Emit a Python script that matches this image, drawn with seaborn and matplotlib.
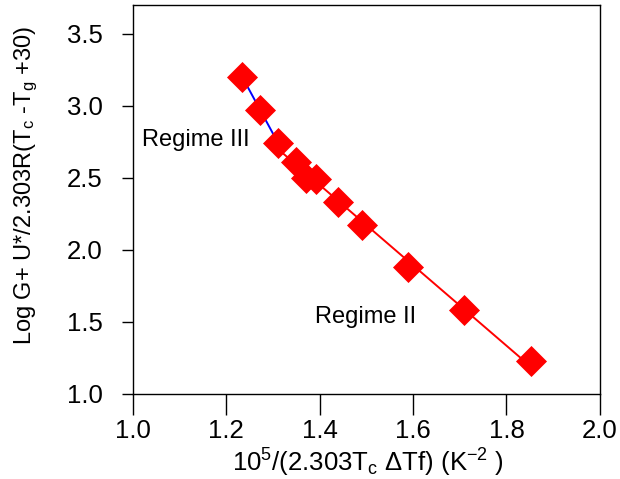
import numpy as np
import pandas as pd
import seaborn as sns
import matplotlib.pyplot as plt

# data
x_vals = [1.234, 1.273, 1.311, 1.350, 1.371, 1.393, 1.440, 1.491, 1.590, 1.708, 1.852]
y_vals = [3.20, 2.97, 2.74, 2.61, 2.50, 2.49, 2.33, 2.17, 1.88, 1.58, 1.23]
regime3_idx = [0, 1, 2]
regime2_idx = [2, 3, 4, 5, 6, 7, 8, 9, 10]

df = pd.DataFrame({'x': x_vals, 'y': y_vals})

sns.set_style('ticks')
plt.rcParams['font.family'] = ['Liberation Sans', 'DejaVu Sans']
plt.rcParams['mathtext.default'] = 'regular'
plt.rcParams['text.color'] = 'black'
plt.rcParams['axes.labelcolor'] = 'black'
plt.rcParams['xtick.color'] = 'black'
plt.rcParams['ytick.color'] = 'black'

fig = plt.figure(figsize=(6.2, 4.79), dpi=100)
ax = fig.add_axes([0.2145, 0.1775, 0.753, 0.812])

# fitted lines for the two regimes
sns.regplot(x='x', y='y', data=df.iloc[regime3_idx], ax=ax, scatter=False,
            ci=None, truncate=True, color='blue', line_kws={'lw': 1.4})
sns.regplot(x='x', y='y', data=df.iloc[regime2_idx], ax=ax, scatter=False,
            ci=None, truncate=True, color='red', line_kws={'lw': 1.4})

sns.scatterplot(x='x', y='y', data=df, ax=ax, marker='D', s=250,
                color='red', edgecolor='red', linewidth=0, zorder=5)

ax.text(1.019, 2.76, 'Regime III', fontsize=17, va='center', ha='left')
ax.text(1.39, 1.535, 'Regime II', fontsize=17, va='center', ha='left')

ax.set_xlim(1.0, 2.0)
ax.set_ylim(1.0, 3.7)
ax.set_xticks([1.0, 1.2, 1.4, 1.6, 1.8, 2.0])
ax.set_yticks([1.0, 1.5, 2.0, 2.5, 3.0, 3.5])
ax.set_xticklabels(['1.0', '1.2', '1.4', '1.6', '1.8', '2.0'])
ax.set_yticklabels(['1.0', '1.5', '2.0', '2.5', '3.0', '3.5'])
ax.tick_params(axis='x', direction='out', length=15, width=1, labelsize=18.5, pad=3)
ax.tick_params(axis='y', direction='out', length=8, width=1, labelsize=18.5, pad=14)

for sp in ax.spines.values():
    sp.set_visible(True)
    sp.set_linewidth(1)
    sp.set_color('black')

ax.set_xlabel('10$^5$/(2.303T$_c$ \u0394Tf) (K$^{-2}$ )', fontsize=18.5)
ax.set_ylabel('Log G+ U*/2.303R(T$_c$ -T$_g$ +30)', fontsize=17)
ax.xaxis.set_label_coords(0.503, -0.135)
ax.yaxis.set_label_coords(-0.199, 0.537)

fig.savefig('out.png', dpi=100)
